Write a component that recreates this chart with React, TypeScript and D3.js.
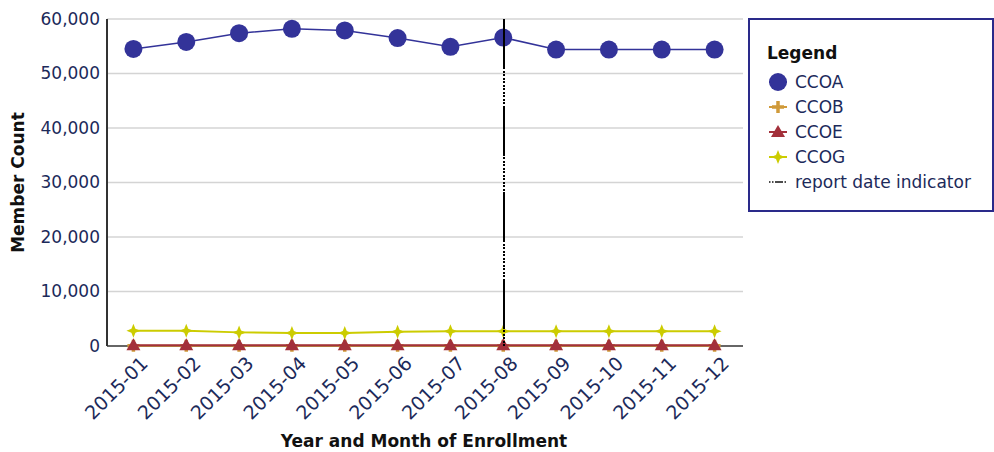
import React from "react";
import * as d3 from "d3";

const months = ["2015-01","2015-02","2015-03","2015-04","2015-05","2015-06","2015-07","2015-08","2015-09","2015-10","2015-11","2015-12"];
const ccoa = [54500, 55800, 57400, 58200, 57900, 56500, 54900, 56600, 54400, 54400, 54400, 54400];
const ccob = [60, 60, 60, 60, 60, 60, 60, 60, 60, 60, 60, 60];
const ccoe = [120, 120, 120, 120, 120, 120, 120, 120, 120, 120, 120, 120];
const ccog = [2800, 2800, 2500, 2400, 2400, 2600, 2700, 2700, 2700, 2700, 2700, 2700];
const yTicks = [0, 10000, 20000, 30000, 40000, 50000, 60000];
const reportMonth = "2015-08";
const seriesNames = ["CCOA", "CCOB", "CCOE", "CCOG"];

const W = 994, H = 452;
const M = { left: 107, right: 741, top: 19, bottom: 346 };
const FONT = "'DejaVu Sans', Verdana, sans-serif";
const TXT = "#1c2a5a";

const colors: Record<string, string> = { CCOA: "#333399", CCOB: "#D09A3A", CCOE: "#A3303A", CCOG: "#CCCC00" };

function Marker({ kind, x, y, color }: { kind: string; x: number; y: number; color: string }) {
  if (kind === "CCOA") return <circle cx={x} cy={y} r={9} fill={color} />;
  if (kind === "CCOB")
    return <path d={`M${x - 6},${y}H${x + 6}M${x},${y - 6}V${y + 6}`} stroke={color} strokeWidth={3.5} />;
  if (kind === "CCOE")
    return <path d={`M${x},${y - 7}L${x + 7},${y + 5}L${x - 7},${y + 5}Z`} fill={color} />;
  const r = 7, q = 2;
  return (
    <path
      d={`M${x},${y - r}L${x + q},${y - q}L${x + r},${y}L${x + q},${y + q}L${x},${y + r}L${x - q},${y + q}L${x - r},${y}L${x - q},${y - q}Z`}
      fill={color}
    />
  );
}

export default function App() {
  const x = d3.scalePoint<string>().domain(months).range([M.left, M.right]).padding(0.5);
  const y = d3.scaleLinear().domain([0, 60000]).range([M.bottom, M.top]);
  const line = d3
    .line<number>()
    .x((_, i) => x(months[i]) as number)
    .y((d) => y(d));
  const data: Record<string, number[]> = { CCOA: ccoa, CCOB: ccob, CCOE: ccoe, CCOG: ccog };
  const fmt = d3.format(",");
  const rx = Math.round(x(reportMonth) as number) + 0.5;

  const dash: number[] = [50];
  for (let i = 0; i < 10; i++) dash.push(1.5, 2);
  dash.push(1.5);

  const drawOrder = ["CCOG", "CCOB", "CCOE", "CCOA"];

  return (
    <svg width={W} height={H} style={{ position: "absolute", left: 0, top: 0, background: "#fff" }} fontFamily={FONT}>
      {yTicks.map((t) => (
        <g key={t}>
          {t > 0 && <line x1={M.left} x2={M.right + 2} y1={y(t)} y2={y(t)} stroke="#d4d4d4" strokeWidth={1.5} />}
          <text x={M.left - 7} y={y(t)} dy="0.35em" textAnchor="end" fontSize={17} fill={TXT}>
            {fmt(t)}
          </text>
        </g>
      ))}
      <line x1={M.left} x2={M.left} y1={M.top} y2={M.bottom} stroke="#333" strokeWidth={2} />
      <line x1={M.left} x2={M.right + 2} y1={M.bottom} y2={M.bottom} stroke="#333" strokeWidth={1.5} />

      {drawOrder.map((s) => (
        <g key={s}>
          <path d={line(data[s]) || ""} fill="none" stroke={colors[s]} strokeWidth={s === "CCOA" ? 1.5 : 2} />
          {data[s].map((v, i) => (
            <Marker key={i} kind={s} x={x(months[i]) as number} y={y(v)} color={colors[s]} />
          ))}
        </g>
      ))}

      <line x1={rx} x2={rx} y1={M.top} y2={M.bottom} stroke="#000" strokeWidth={2} strokeDasharray={dash.join(",")} shapeRendering="crispEdges" />

      {months.map((m) => (
        <text
          key={m}
          transform={`translate(${(x(m) as number) + 11},${M.bottom + 14}) rotate(-45)`}
          textAnchor="end"
          fontSize={19}
          fill={TXT}
          dy="0.35em"
        >
          {m}
        </text>
      ))}

      <text x={(M.left + M.right) / 2} y={447} textAnchor="middle" fontSize={17} fontWeight="bold" fill="#111">
        Year and Month of Enrollment
      </text>
      <text
        transform={`translate(24,${(M.top + M.bottom) / 2}) rotate(-90)`}
        textAnchor="middle"
        fontSize={17}
        fontWeight="bold"
        fill="#111"
      >
        Member Count
      </text>

      <rect x={749} y={19} width={244} height={192} fill="#fff" stroke="#2a2a8a" strokeWidth={2} />
      <text x={767} y={59} fontSize={17} fontWeight="bold" fill="#111">
        Legend
      </text>
      {seriesNames.map((s, i) => {
        const ly = 82 + i * 25;
        return (
          <g key={s}>
            <line x1={769} x2={787} y1={ly} y2={ly} stroke={colors[s]} strokeWidth={2} />
            <Marker kind={s} x={778} y={ly} color={colors[s]} />
            <text x={795} y={ly} dy="0.35em" fontSize={17} fill={TXT}>
              {s}
            </text>
          </g>
        );
      })}
      <line x1={769} x2={787} y1={182} y2={182} stroke="#111" strokeWidth={1.5} strokeDasharray="1.5,1.5,1.5,1.5,8" />
      <text x={795} y={182} dy="0.35em" fontSize={17} fill={TXT}>
        report date indicator
      </text>
    </svg>
  );
}
